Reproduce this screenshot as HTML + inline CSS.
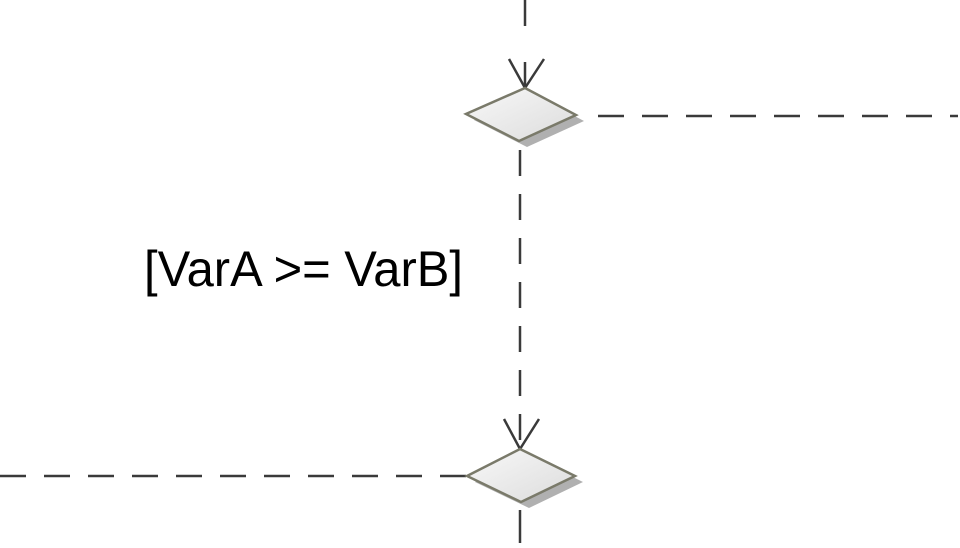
<!DOCTYPE html>
<html><head><style>html,body{margin:0;padding:0;background:#fff;}</style></head>
<body>
<svg width="960" height="543" viewBox="0 0 960 543" xmlns="http://www.w3.org/2000/svg">
<defs>
<linearGradient id="g" x1="0" y1="0" x2="1" y2="1">
<stop offset="0" stop-color="#f8f8f8"/><stop offset="1" stop-color="#dcdcdc"/>
</linearGradient>
</defs>
<g stroke="#3a3a3a" stroke-width="2.5" fill="none" stroke-dasharray="26 18">
<line x1="525" y1="0" x2="525" y2="40"/>
<line x1="525" y1="62" x2="525" y2="88" stroke-dasharray="none"/>
<line x1="598" y1="116" x2="958" y2="116"/>
<line x1="520" y1="150" x2="520" y2="449"/>
<line x1="0" y1="476" x2="466" y2="476"/>
<line x1="520" y1="510" x2="520" y2="543" stroke-dasharray="none"/>
</g>
<g stroke="#3a3a3a" stroke-width="2.5" fill="none">
<polyline points="509,59 525,88 544,59"/>
<polyline points="504,419 520,449 539,419"/>
</g>
<polygon points="533,94 584,121 527,147 474,120" fill="#b0b0b0"/>
<polygon points="525,88 576,115 519,141 466,114" fill="url(#g)" stroke="#7a7a6a" stroke-width="2.5"/>
<polygon points="528,455 583,482 529,508 475,482" fill="#b0b0b0"/>
<polygon points="520,449 575,476 521,502 467,476" fill="url(#g)" stroke="#7a7a6a" stroke-width="2.5"/>
<text x="144" y="286" font-family="Liberation Sans, sans-serif" font-size="50" fill="#000" textLength="319" lengthAdjust="spacingAndGlyphs">[VarA &gt;= VarB]</text>
</svg>
</body></html>
